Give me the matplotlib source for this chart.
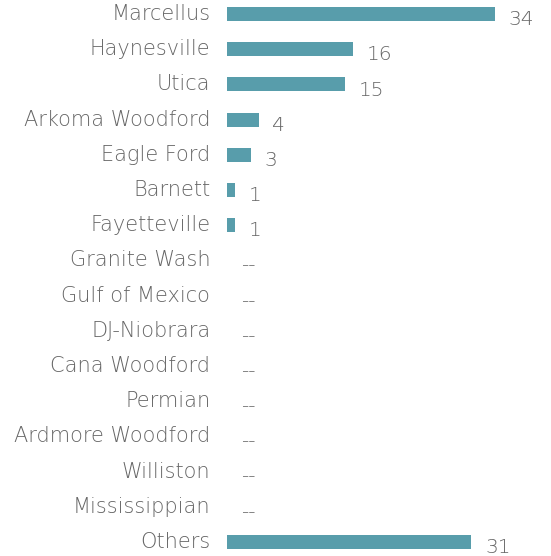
import matplotlib.pyplot as plt

# Datos
plays = ['Marcellus', 'Haynesville', 'Utica', 'Arkoma Woodford', 'Eagle Ford',
         'Barnett', 'Fayetteville', 'Granite Wash', 'Gulf of Mexico', 'DJ-Niobrara',
         'Cana Woodford', 'Permian', 'Ardmore Woodford', 'Williston', 'Mississippian',
         'Others']
values = [34, 16, 15, 4, 3, 1, 1, 0, 0, 0, 0, 0, 0, 0, 0, 31]

bar_color = '#589dab'
text_color = '#666666'

plt.rcParams['font.family'] = ['DejaVu Sans']

fig = plt.figure(figsize=(5.51, 5.56), dpi=100)
ax = fig.add_axes([227 / 551, 0, 318 / 551, 1])

pos = list(range(len(plays)))
ax.barh(pos, values, height=0.4, color=bar_color)
ax.set_ylim(15.4, -0.4)
ax.set_xlim(0, 318 / 7.88)

# Etiquetas de valores
for y, v in zip(pos, values):
    label = str(v) if v > 0 else '--'
    ax.annotate(label, xy=(v, y), xytext=(10, -4), textcoords='offset points',
                ha='left', va='center', fontsize=14.5, color=text_color,
                fontweight='light')

# Etiquetas de categorias
for y, name in zip(pos, plays):
    ax.annotate(name, xy=(0, y), xytext=(-12, 0), textcoords='offset points',
                ha='right', va='center', fontsize=15, color=text_color,
                fontweight='light', annotation_clip=False)

ax.axis('off')
fig.savefig('out.png', dpi=100)
